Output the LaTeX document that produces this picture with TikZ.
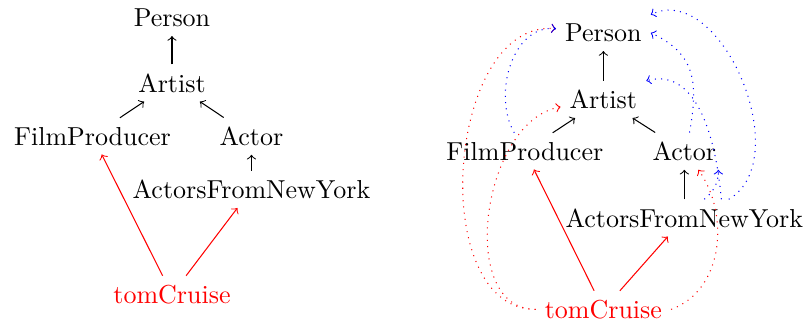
\documentclass[tikz,border=0pt]{standalone}
\begin{document}
\begin{tikzpicture}[->,node distance=0.88cm,inferred/.style={dotted}]
            \useasboundingbox (-2.326,0.241) rectangle (8.574,-4.114);
            \node (1) {Person};
            \node (2) [below of=1] {Artist};
            \node (3) [below of=2, node distance=0.72cm, xshift=-1.075cm] {FilmProducer};
            \node (4) [below of=2, node distance=0.72cm, xshift=1.075cm] {Actor};
            \node (5) [below of=4, node distance=0.72cm] {ActorsFromNewYork};
            \node (6) [below of=2, node distance=2.86cm, color=red] {tomCruise};
            \path
            (2) edge (1)
            (3) edge (2)
            (4) edge (2)
            (5) edge (4)
            (6) edge [color=red] (3)
            (6) edge [color=red] (5);
            \node (7) [right of=1, node distance=5.834cm, yshift=-0.203cm] {Person};
            \node (8) [below of=7, node distance=0.9cm] {Artist};
            \node (9) [below of=8, node distance=0.7cm, xshift=-1.062cm] {FilmProducer};
            \node (10) [below of=8, node distance=0.7cm, xshift=1.095cm] {Actor};
            \node (11) [below of=10, node distance=0.903cm] {ActorsFromNewYork};
            \node (12) [below of=8, node distance=2.84cm, color=red] {tomCruise};
            \path
            (8) edge (7)
            (9) edge (8)
            (10) edge (8)
            (11) edge (10)
            (12) edge [color=red] (9)
            (12) edge [color=red] (11);
            \path[inferred]
            (12) edge [color=red, out=180, in=175] (7)
            (12) edge [color=red, out=180, in=190] (8)
            (12.east) edge [color=red, out=20, in=-55] ([xshift=0.19cm]10.south)
            (9) edge [color=blue, out=120, in=175] (7)
            ([xshift=0.07cm]10.north) edge [color=blue, out=80, in=-25, looseness=1.2] (7.east)
            ([xshift=0.5cm]11.north) edge [color=blue, out=95, in=15] (8.north east)
            ([xshift=0.6cm]11.north) edge [color=blue, out=30, in=25] (7.north east)
            ([xshift=0.27cm]11.north) edge [color=blue, out=40, in=-90] ([xshift=0.46cm]10.south);
        \end{tikzpicture}
\end{document}
